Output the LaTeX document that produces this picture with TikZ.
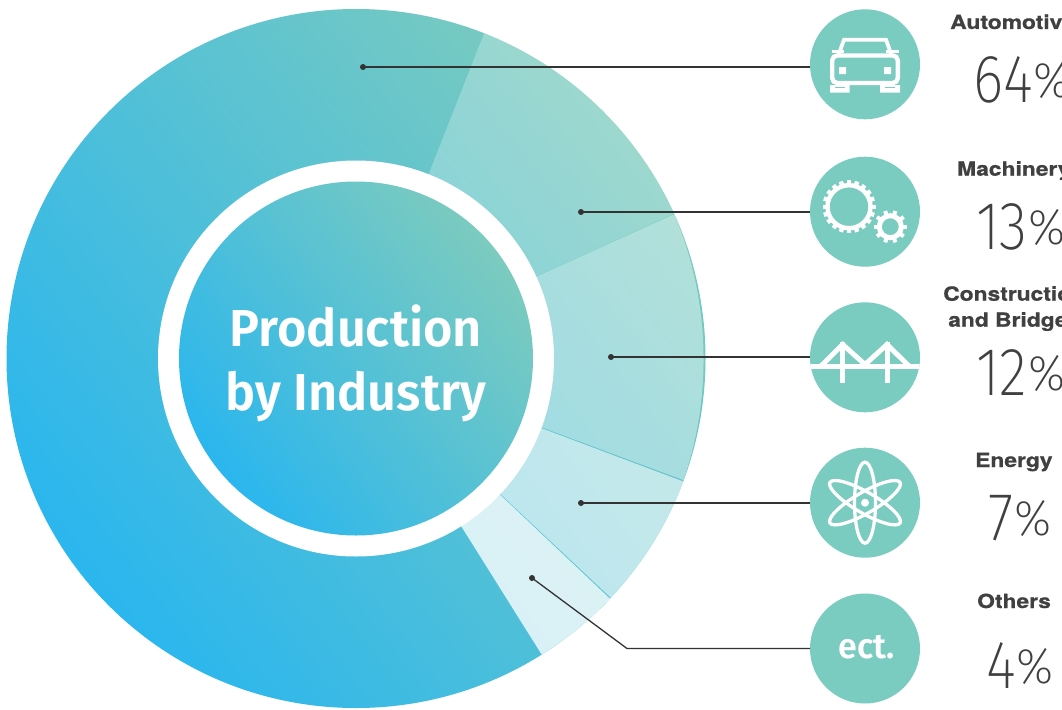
\documentclass[tikz,border=0pt]{standalone}
\usepackage{fontspec}
\setmainfont{Liberation Sans}
\newfontfamily\ftitle{Fira Sans}[UprightFont=* SemiBold,FakeStretch=0.97]
\newfontfamily\flabel{TeX Gyre Heros}[UprightFont=* Bold,FakeBold=0.7,FakeStretch=1.17]
\newfontfamily\fnum{Fira Sans}[UprightFont=* ExtraLight,FakeStretch=0.85]
\newfontfamily\fpct{Fira Sans}[UprightFont=* ExtraLight,FakeStretch=0.95]
\usetikzlibrary{calc}
\definecolor{gblue}{HTML}{2AB6EE}
\definecolor{gteal}{HTML}{7CCBBE}
\definecolor{iconteal}{HTML}{7ACBC0}
\definecolor{inkdark}{HTML}{333333}
\definecolor{labeldark}{HTML}{404040}
\tikzset{
  x=1pt,y=-1pt,
  grad/.style={left color=gblue,right color=gteal,shading angle=128},
  wedgeseg/.style={fill=white,fill opacity=#1},
  iconbg/.style={circle,fill=iconteal,minimum size=110pt,inner sep=0pt,outer sep=0pt},
  conn/.style={draw=inkdark,line width=1.3pt},
  dotmark/.style={circle,fill=inkdark,minimum size=6pt,inner sep=0pt},
  wline/.style={draw=white,line width=#1},
  titletext/.style={text=white,font=\ftitle\fontsize{52}{63.7}\selectfont,align=center,inner sep=0pt},
  lab/.style={anchor=base west,inner sep=0pt,text=labeldark,font=\flabel\fontsize{19.5}{19.5}\selectfont},
  num/.style={anchor=base west,inner sep=0pt,text=labeldark,font=\fnum\fontsize{68}{68}\selectfont},
}
\newcommand{\pct}{\kern1pt\raisebox{5pt}{\fpct\fontsize{50}{50}\selectfont\%}}
\begin{document}
\begin{tikzpicture}
\useasboundingbox (0,0) rectangle (1062,709);
\fill[white] (0,0) rectangle (1062,709);
% donut
\coordinate (O) at (356,358.5);
\shade[grad] (O) circle[radius=349.5];
\begin{scope}[shift={(O)}]
  \fill[wedgeseg=0.25] (0,0) -- (-68.5:349.5) arc[start angle=-68.5,end angle=-24.5,radius=349.5] -- cycle;
  \fill[wedgeseg=0.42] (0,0) -- (-24.4:349.5) arc[start angle=-22.8,end angle=18.8,radius=374.7] -- cycle;
  \fill[wedgeseg=0.61] (0,0) -- (20.6:349.5) arc[start angle=20.6,end angle=43.2,radius=349.5] -- cycle;
  \fill[wedgeseg=0.79] (0,0) -- (43.4:349.5) arc[start angle=43.4,end angle=57.9,radius=349.5] -- cycle;
\end{scope}
\fill[white] (O) circle[radius=198];
\shade[grad] (O) circle[radius=177];
\node[titletext] (title) at (356,363) {Production\\by Industry};
% icon discs
\node[iconbg] (c1) at (865,64.3) {};
\node[iconbg] (c2) at (865,211.7) {};
\node[iconbg] (c3) at (865,357.3) {};
\node[iconbg] (c4) at (865,502.7) {};
\node[iconbg] (c5) at (865,648.5) {};
% dots and connectors
\node[dotmark] (d1) at (363,67) {};
\node[dotmark] (d2) at (581,212) {};
\node[dotmark] (d3) at (611,357) {};
\node[dotmark] (d4) at (581,503) {};
\node[dotmark] (d5) at (532,578) {};
\coordinate (bend) at (627,648.5);
\draw[conn] (d1.center) -- (d1.center -| c1.west);
\draw[conn] (d2.center) -- (d2.center -| c2.west);
\draw[conn] (d3.center) -- (d3.center -| c3.west);
\draw[conn] (d4.center) -- (d4.center -| c4.west);
\draw[conn] (d5.center) -- (bend) -- (c5.west);
% car
\draw[wline=3.8pt,line join=miter] (838.8,54) -- (844,39.8) -- (886,39.8) -- (891.2,54);
\draw[wline=3.8pt] (831.5,51.5) -- (844,51.5) (886,51.5) -- (898.7,51.5);
\draw[wline=4.4pt,rounded corners=5pt] (832.2,83) -- (832.2,55.5) -- (897.8,55.5) -- (897.8,83) -- cycle;
\fill[white] (839,67) rectangle (846,74) (884,67) rectangle (891,74);
\fill[white] (830,85) rectangle (849.5,92.7) (880,85) rectangle (900,92.7);
\draw[iconteal,line width=.7pt] (835,87) -- (845,87) (885,87) -- (895,87);
% gears
\coordinate (g1) at (849,206.7);
\coordinate (g2) at (890.3,226.7);
\draw[wline=4.4pt] (g1) circle[radius=21.5];
\foreach \a in {0,18,...,342}{
  \draw[wline=4.4pt] ($(g1)+(\a:22)$) -- ($(g1)+(\a:26.5)$);
}
\draw[wline=5pt] (g2) circle[radius=11];
\foreach \a in {0,36,...,324}{
  \draw[wline=4pt] ($(g2)+(\a:12)$) -- ($(g2)+(\a:16.5)$);
}
% bridge
\begin{scope}
  \clip (c3) circle[radius=55];
  \fill[white] (810,364.2) rectangle (920,369.2);
\end{scope}
\draw[wline=5pt] (842.7,342) -- (842.7,382.7) (887,342) -- (887,382.7);
\draw[wline=5pt,line join=miter] (821,366) -- (842.7,344.5) -- (865,364.5) -- (887,344.5) -- (909,366);
% atom
\coordinate (a0) at (865,502.7);
\foreach \r in {0,60,120}{
  \draw[wline=3.3pt,rotate around={\r:(a0)}] (a0) ellipse[x radius=10.5,y radius=40.5];
}
\fill[white] (a0) circle[radius=4];
\node[text=white,inner sep=0pt,font=\ftitle\fontsize{35}{35}\selectfont] (ect) at (867,647) {ect.};
% labels
\node[lab] (l1) at (950,29) {Automotiv};
\node[num] (n1) at (973,102) {64\pct};
\node[lab] (l2) at (957,175.7) {Machinery};
\node[num] (n2) at (976,249) {13\pct};
\node[lab] (l3a) at (943,300.7) {Constructio};
\node[lab] (l3b) at (948,326.7) {and Bridge};
\node[num] (n3) at (976,395) {12\pct};
\node[lab] (l4) at (975,467) {Energy};
\node[num] (n4) at (988,540) {7\pct};
\node[lab] (l5) at (977,608) {Others};
\node[num] (n5) at (986,688) {4\pct};
\end{tikzpicture}
\end{document}
